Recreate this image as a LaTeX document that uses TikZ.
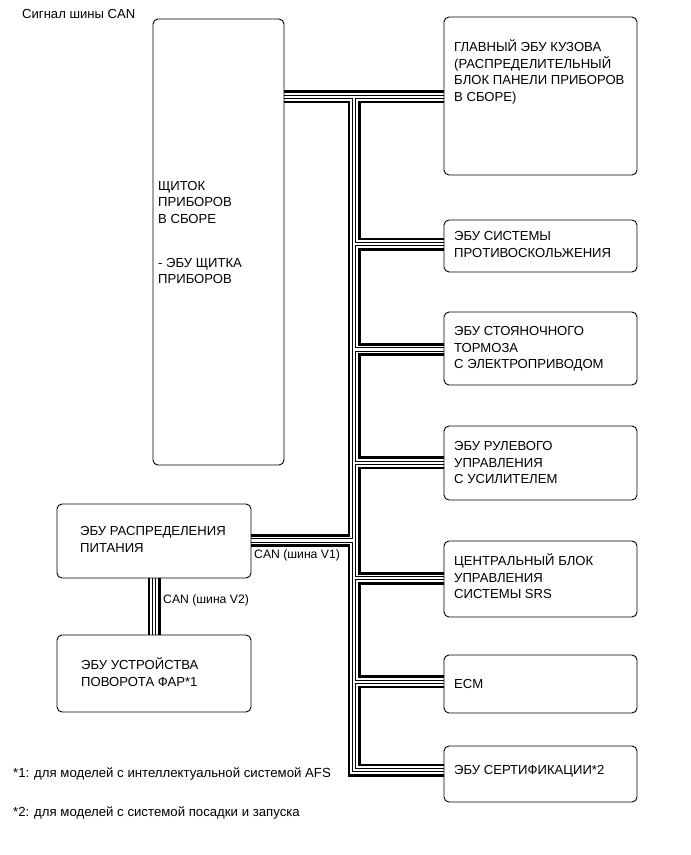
\documentclass[tikz,border=0pt]{standalone}
\usepackage{fontspec}
\setmainfont{Liberation Sans}
\usetikzlibrary{backgrounds}
\newcommand{\mlines}[1]{\begin{tabular}[t]{@{}l@{}}#1\end{tabular}}
\begin{document}
\begin{tikzpicture}[x=1pt,y=-1pt,
  box/.style={draw, line width=0.9pt, rounded corners=5pt, inner sep=0pt, outer sep=0pt, anchor=north west},
  txt/.style={anchor=base west, inner sep=0pt, font=\fontsize{13.1}{16.5}\selectfont},
  cantxt/.style={anchor=base west, inner sep=0pt, font=\fontsize{12.2}{14}\selectfont},
  fntxt/.style={anchor=base west, inner sep=0pt, font=\fontsize{13.2}{14}\selectfont}]
\useasboundingbox (0,0) rectangle (691,855);
% boxes
\node[box, minimum width=131pt, minimum height=446pt] (clu) at (153,19) {};
\node[box, minimum width=193pt, minimum height=158pt] (main) at (444,17) {};
\node[box, minimum width=193pt, minimum height=52pt] (skid) at (444,220) {};
\node[box, minimum width=193pt, minimum height=73pt] (park) at (444,312) {};
\node[box, minimum width=193pt, minimum height=74pt] (steer) at (444,426) {};
\node[box, minimum width=193pt, minimum height=76pt] (srs) at (444,541) {};
\node[box, minimum width=193pt, minimum height=58pt] (ecm) at (444,655) {};
\node[box, minimum width=193pt, minimum height=56pt] (cert) at (444,746) {};
\node[box, minimum width=194pt, minimum height=74pt] (pwr) at (57,504) {};
\node[box, minimum width=194pt, minimum height=77pt] (head) at (57,635) {};
% bus coordinates
\coordinate (t0) at (354,96.7);
\coordinate (t1) at (354,244);
\coordinate (t2) at (354,349.5);
\coordinate (t3) at (354,462.7);
\coordinate (tp) at (354,540.5);
\coordinate (t4) at (354,578.3);
\coordinate (t5) at (354,681.7);
\coordinate (t6) at (354,770);
\coordinate (v2) at (154,560);
% bus (layered to draw the four-line cable)
\begin{scope}[on background layer]
\foreach \w/\c in {13/black,7.6/white,4.3/black,2.1/white}{
  \draw[line width=\w pt, draw=\c, line join=miter, line cap=butt]
    (clu.east|-t0) -- (main.west|-t0)
    (t0) -- (t6) -- (cert.west|-t6)
    (t1) -- (skid.west|-t1)
    (t2) -- (park.west|-t2)
    (t3) -- (steer.west|-t3)
    (t4) -- (srs.west|-t4)
    (t5) -- (ecm.west|-t5)
    (pwr.east|-tp) -- (tp)
    (v2|-pwr.south) -- (v2|-head.north);
}
\end{scope}
% texts
\node[txt] (title) at (22,18.5) {Сигнал шины CAN};
\node[txt] (cluT1) at (158,190) {\mlines{ЩИТОК\\ПРИБОРОВ\\В СБОРЕ}};
\node[txt] (cluT2) at (158,267) {\mlines{- ЭБУ ЩИТКА\\ПРИБОРОВ}};
\node[txt] (mainT) at (454,51.5) {\mlines{ГЛАВНЫЙ ЭБУ КУЗОВА\\(РАСПРЕДЕЛИТЕЛЬНЫЙ\\БЛОК ПАНЕЛИ ПРИБОРОВ\\В СБОРЕ)}};
\node[txt] (skidT) at (454,240.5) {\mlines{ЭБУ СИСТЕМЫ\\ПРОТИВОСКОЛЬЖЕНИЯ}};
\node[txt] (parkT) at (454,335.5) {\mlines{ЭБУ СТОЯНОЧНОГО\\ТОРМОЗА\\С ЭЛЕКТРОПРИВОДОМ}};
\node[txt] (steerT) at (454,450.5) {\mlines{ЭБУ РУЛЕВОГО\\УПРАВЛЕНИЯ\\С УСИЛИТЕЛЕМ}};
\node[txt] (srsT) at (454,565.5) {\mlines{ЦЕНТРАЛЬНЫЙ БЛОК\\УПРАВЛЕНИЯ\\СИСТЕМЫ SRS}};
\node[txt] (ecmT) at (454,688.5) {ECM};
\node[txt] (certT) at (454,774.5) {ЭБУ СЕРТИФИКАЦИИ*2};
\node[txt] (pwrT) at (80,535.5) {\mlines{ЭБУ РАСПРЕДЕЛЕНИЯ\\ПИТАНИЯ}};
\node[txt] (headT) at (81,669.5) {\mlines{ЭБУ УСТРОЙСТВА\\ПОВОРОТА ФАР*1}};
\node[cantxt] (v1lbl) at (254,558) {CAN (шина V1)};
\node[cantxt] (v2lbl) at (163,603) {CAN (шина V2)};
\node[fntxt] (fn1) at (13,777) {*1: для моделей с интеллектуальной системой AFS};
\node[fntxt] (fn2) at (13,816) {*2: для моделей с системой посадки и запуска};
\end{tikzpicture}
\end{document}
